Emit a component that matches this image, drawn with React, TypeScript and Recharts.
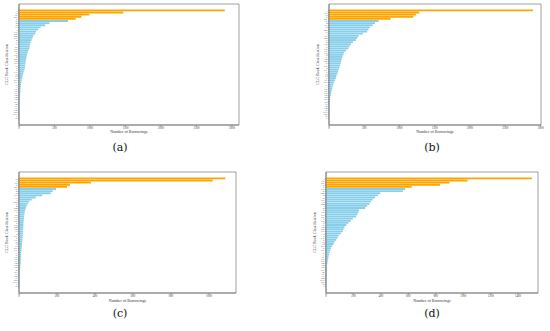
import { BarChart, Bar, XAxis, YAxis, Cell, CartesianGrid } from "recharts";

// CLC category codes per panel, ordered by borrowings (top = most)
const labelsA = [
  "I", "H", "TP", "O1", "F", "K", "B", "D", "G", "J", "TN", "TM", "O4",
  "TU", "R", "E", "C", "TS", "TH", "TK", "N", "TQ", "X", "O6", "TB", "TG",
  "U", "S", "P", "TV", "Q", "TJ", "Z", "O3", "TL", "V", "A", "TF", "TD",
  "TE", "F0", "F2", "F8", "H3", "I2", "I3", "I7", "G4", "D9", "TP3", "T", "O",
];
const labelsB = [
  "I", "TP", "H", "F", "O1", "K", "B", "TN", "D", "TM", "G", "J", "TU",
  "O4", "E", "R", "TS", "C", "TH", "TK", "TQ", "N", "X", "TB", "O6", "U",
  "TG", "S", "TV", "P", "Q", "TJ", "Z", "TL", "O3", "V", "A", "TF", "TE",
  "TD", "F2", "F0", "H3", "F8", "I3", "I2", "G4", "I7", "TP3", "D9", "O", "T",
];
const labelsC = [
  "H", "I", "TP", "F", "O1", "K", "B", "D", "TN", "G", "J", "TM", "E",
  "R", "O4", "TU", "C", "TS", "TH", "N", "TK", "X", "TQ", "O6", "TB", "U",
  "S", "TG", "P", "TV", "Q", "Z", "TJ", "O3", "TL", "A", "V", "TF", "TD",
  "TE", "F0", "F8", "F2", "I2", "H3", "I3", "G4", "I7", "D9", "TP3", "T", "O",
];
const labelsD = [
  "I", "TP", "O1", "H", "F", "TN", "K", "TM", "B", "D", "TU", "G", "O4",
  "J", "R", "E", "TS", "TH", "TK", "C", "TQ", "X", "N", "TB", "O6", "TG",
  "U", "S", "TV", "P", "Q", "TJ", "O3", "Z", "TL", "V", "A", "TF", "TD",
  "TE", "F0", "F2", "F8", "H3", "I2", "I3", "I7", "G4", "TP3", "D9", "O", "T",
];

const valuesA = [
  2900, 1470, 990, 880, 800, 690, 430, 370, 305, 272, 240, 225, 202,
  190, 178, 165, 155, 150, 146, 131, 120, 112, 105, 99, 95, 90,
  88, 85, 75, 66, 58, 50, 44, 38, 33, 29, 25, 22, 20,
  18, 16, 15, 14, 12, 10, 8, 7, 5, 4, 3, 2, 1,
];
const valuesB = [
  2893, 1280, 1232, 1194, 873, 703, 651, 618, 580, 560, 540, 480, 420,
  401, 382, 340, 311, 290, 274, 240, 212, 203, 190, 180, 172, 165,
  156, 147, 137, 128, 118, 105, 99, 85, 71, 60, 52, 45, 38,
  30, 24, 18, 14, 11, 9, 7, 5, 4, 3, 2, 1, 1,
];
const valuesC = [
  1086, 1019, 379, 268, 253, 195, 177, 167, 123, 88, 67, 54, 46,
  40, 36, 33, 30, 28, 27, 26, 25, 24, 23, 23, 22, 22,
  21, 20, 19, 18, 17, 16, 15, 14, 13, 12, 11, 11, 10,
  9, 9, 8, 7, 6, 5, 4, 3, 3, 2, 2, 1, 1,
];
const valuesD = [
  1500, 1032, 901, 831, 625, 577, 560, 395, 378, 358, 340, 327, 317,
  300, 285, 240, 235, 230, 220, 196, 180, 164, 148, 135, 128, 123,
  109, 92, 84, 75, 62, 55, 45, 36, 31, 26, 22, 19, 16,
  13, 10, 7, 6, 5, 4, 3, 3, 2, 2, 1, 1, 1,
];

const ticksWide = [0, 500, 1000, 1500, 2000, 2500, 3000];
const ticksC = [0, 200, 400, 600, 800, 1000];
const ticksD = [0, 200, 400, 600, 800, 1000, 1200, 1400];

const TOP_N = 5;
const ORANGE = "#FFA500";
const SKY = "#87CEEB";
const FRAME = "#888";
const SERIF = "'Liberation Serif', serif";

type PanelProps = {
  labels: string[];
  values: number[];
  maxX: number;
  ticks: number[];
  left: number;
  top: number;
  width: number;
  yAxisWidth: number;
  yLabelOffset: number;
  xLabelOffset: number;
  marginRight: number;
};

type GridArgs = { offset: { left: number; top: number; width: number; height: number } };

// frame of the plot area (matplotlib-style box)
const frameX = ({ offset }: GridArgs) => [offset.left, offset.left + offset.width];
const frameY = ({ offset }: GridArgs) => [offset.top, offset.top + offset.height];

function Panel(p: PanelProps) {
  const data = p.labels.map((name, i) => ({ name, value: p.values[i] }));
  return (
    <div style={{ position: "absolute", left: p.left, top: p.top }}>
      <BarChart
        width={p.width}
        height={140}
        data={data}
        layout="vertical"
        margin={{ top: 4, right: p.marginRight, bottom: 0, left: 0 }}
        barSize={1.85}
      >
        <CartesianGrid
          stroke={FRAME}
          strokeWidth={0.8}
          verticalCoordinatesGenerator={frameX}
          horizontalCoordinatesGenerator={frameY}
        />
        <XAxis
          type="number"
          dataKey="value"
          domain={[0, p.maxX]}
          ticks={p.ticks}
          allowDataOverflow
          height={15}
          tickSize={1.5}
          tickMargin={0.5}
          stroke={FRAME}
          tick={{ fontSize: 3, fill: "#444", fontFamily: SERIF }}
          label={{
            value: "Number of Borrowings",
            position: "insideBottom",
            offset: p.xLabelOffset,
            style: { fontSize: 4, fill: "#333", fontFamily: SERIF },
          }}
        />
        <YAxis
          type="category"
          dataKey="name"
          width={p.yAxisWidth}
          interval={0}
          padding={{ top: 5.5, bottom: 5.5 }}
          tickSize={1}
          tickMargin={0.5}
          stroke={FRAME}
          tick={{ fontSize: 2.8, fill: "#333", fontFamily: SERIF }}
          label={{
            value: "CLC Book Classification",
            angle: -90,
            position: "insideLeft",
            offset: p.yLabelOffset,
            style: { textAnchor: "middle", fontSize: 4, fill: "#333", fontFamily: SERIF },
          }}
        />
        <Bar dataKey="value" isAnimationActive={false}>
          {data.map((d, i) => (
            <Cell key={d.name} fill={i < TOP_N ? ORANGE : SKY} />
          ))}
        </Bar>
      </BarChart>
    </div>
  );
}

function Caption({ text, x, y }: { text: string; x: number; y: number }) {
  return (
    <div
      style={{
        position: "absolute",
        left: x - 20,
        top: y - 8,
        width: 40,
        textAlign: "center",
        fontSize: 11,
        lineHeight: "16px",
        fontFamily: "'DejaVu Serif', serif",
        color: "#111",
      }}
    >
      {text}
    </div>
  );
}

export default function App() {
  return (
    <div
      style={{
        position: "absolute",
        left: 0,
        top: 0,
        width: 550,
        height: 331,
        background: "#fff",
        overflow: "hidden",
      }}
    >
      <Panel labels={labelsA} values={valuesA} maxX={3100} ticks={ticksWide}
        left={0} top={0} width={245} yAxisWidth={19} yLabelOffset={7}
        xLabelOffset={7} marginRight={6} />
      <Panel labels={labelsB} values={valuesB} maxX={3005} ticks={ticksWide}
        left={305} top={0} width={240} yAxisWidth={24} yLabelOffset={12.5}
        xLabelOffset={7} marginRight={4} />
      <Panel labels={labelsC} values={valuesC} maxX={1142} ticks={ticksC}
        left={0} top={168} width={242} yAxisWidth={19} yLabelOffset={7}
        xLabelOffset={6} marginRight={6} />
      <Panel labels={labelsD} values={valuesD} maxX={1545} ticks={ticksD}
        left={305} top={168} width={237} yAxisWidth={21} yLabelOffset={10}
        xLabelOffset={6} marginRight={4} />
      <Caption text="(a)" x={120} y={148} />
      <Caption text="(b)" x={432} y={148} />
      <Caption text="(c)" x={120} y={314} />
      <Caption text="(d)" x={432} y={314} />
    </div>
  );
}
